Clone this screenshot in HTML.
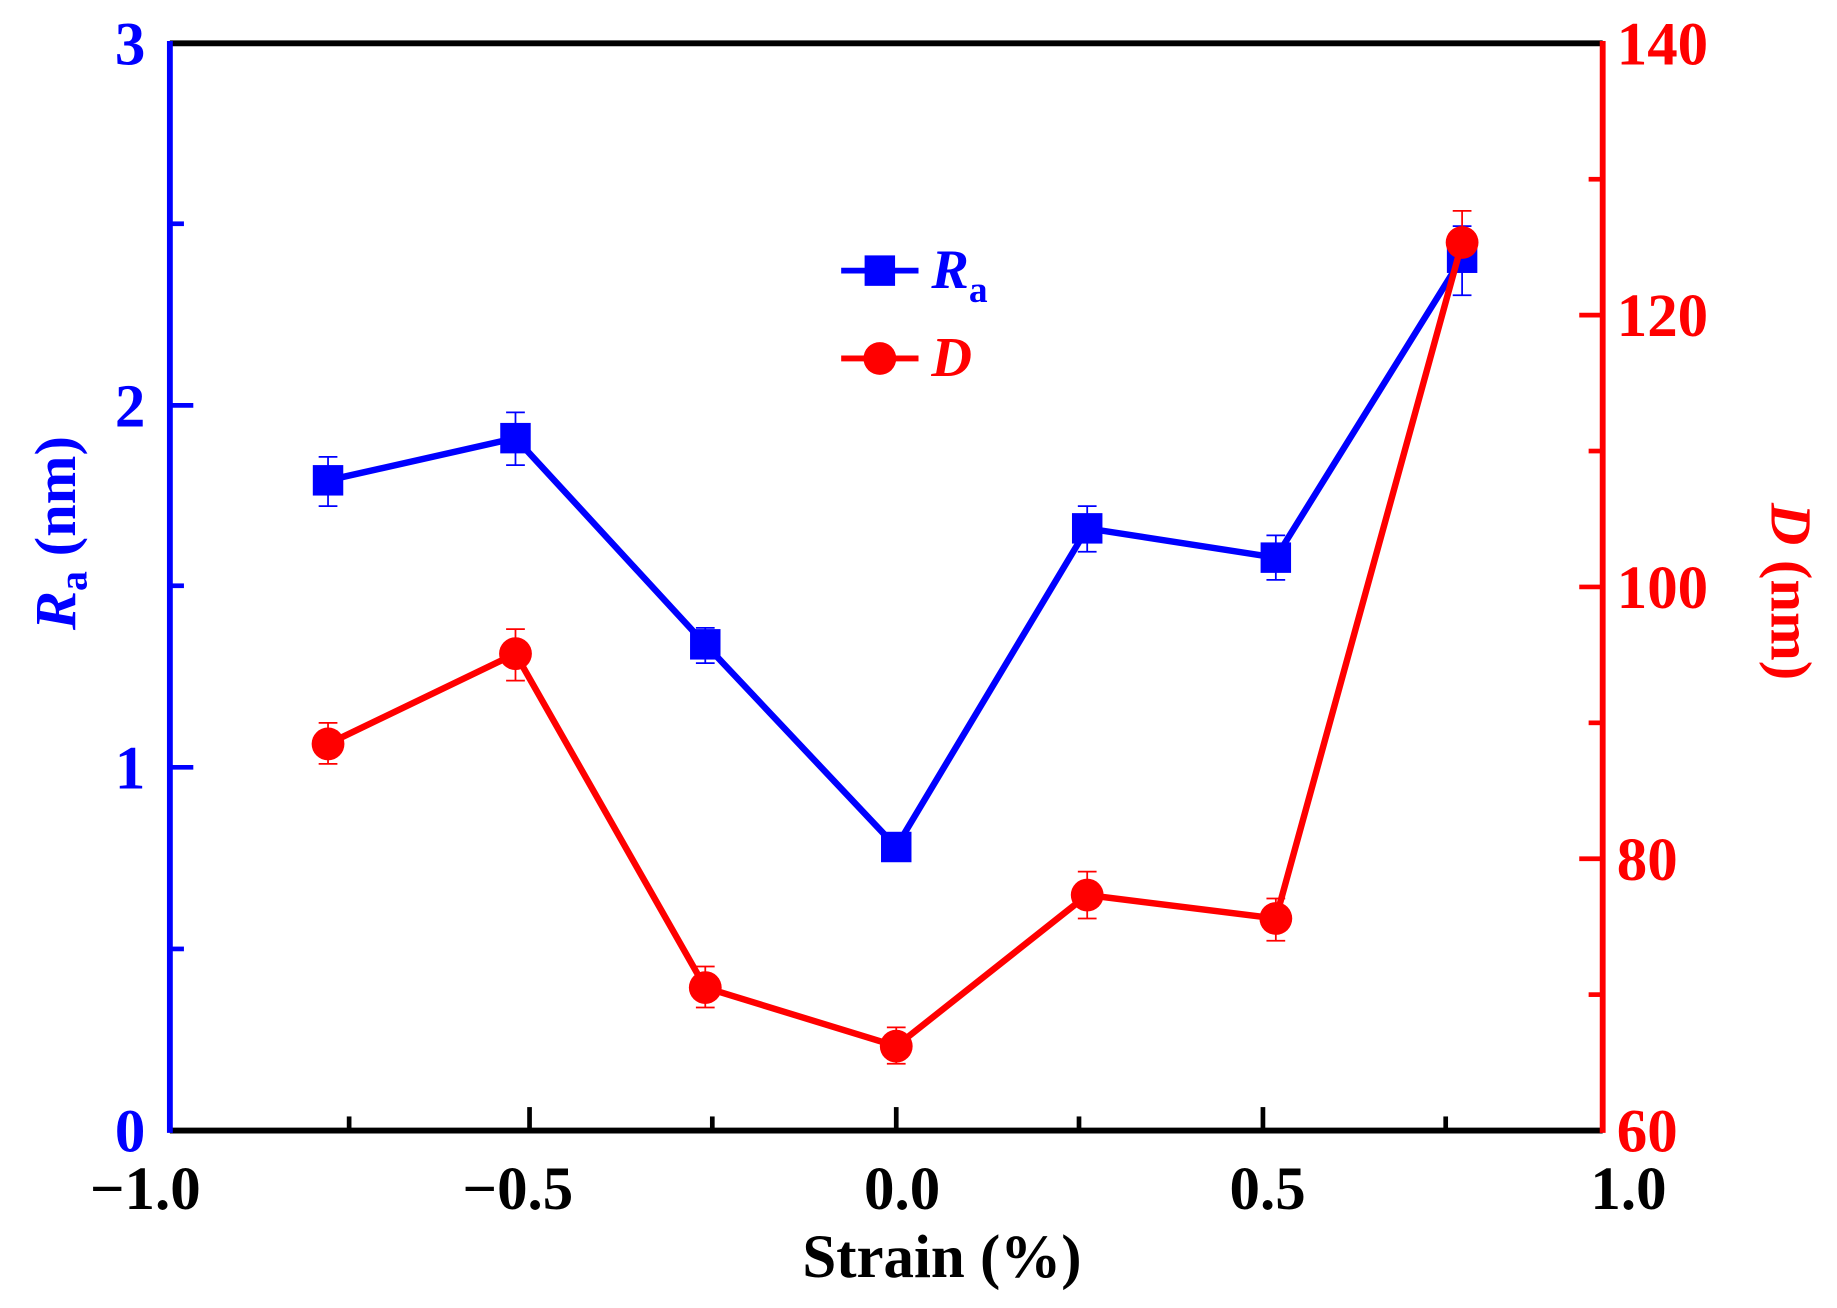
<!DOCTYPE html>
<html><head><style>html,body{margin:0;padding:0;background:#fff}svg{display:block}</style></head><body>
<svg width="1837" height="1308" viewBox="0 0 1568 1116.5" preserveAspectRatio="none" xmlns="http://www.w3.org/2000/svg" font-family="Liberation Serif, serif" font-weight="bold">
<rect width="1568" height="1117" fill="#fff"/>
<line x1="145" y1="37" x2="1368" y2="37" stroke="#000" stroke-width="5"/>
<line x1="145" y1="965" x2="1368" y2="965" stroke="#000" stroke-width="5"/>
<line x1="145" y1="35" x2="145" y2="967" stroke="#0000ff" stroke-width="5"/>
<line x1="1368" y1="35" x2="1368" y2="967" stroke="#ff0000" stroke-width="5"/>
<g stroke="#000" stroke-width="4">
<line x1="298" y1="965" x2="298" y2="953"/><line x1="452" y1="965" x2="452" y2="945"/><line x1="608" y1="965" x2="608" y2="953"/><line x1="765" y1="965" x2="765" y2="945"/><line x1="921" y1="965" x2="921" y2="953"/><line x1="1078" y1="965" x2="1078" y2="945"/><line x1="1234" y1="965" x2="1234" y2="953"/>
</g>
<g stroke="#0000ff" stroke-width="4">
<line x1="145" y1="655" x2="165" y2="655"/><line x1="145" y1="346" x2="165" y2="346"/><line x1="145" y1="500" x2="157" y2="500"/><line x1="145" y1="810" x2="157" y2="810"/><line x1="145" y1="191" x2="157" y2="191"/>
</g>
<g stroke="#ff0000" stroke-width="4">
<line x1="1368" y1="733" x2="1348" y2="733"/><line x1="1368" y1="501" x2="1348" y2="501"/><line x1="1368" y1="269" x2="1348" y2="269"/><line x1="1368" y1="153" x2="1356" y2="153"/><line x1="1368" y1="385" x2="1356" y2="385"/><line x1="1368" y1="617" x2="1356" y2="617"/><line x1="1368" y1="849" x2="1356" y2="849"/>
</g>
<g font-size="52" fill="#000" text-anchor="middle">
<text x="124" y="1032">−1.0</text><text x="442" y="1032">−0.5</text><text x="770" y="1032">0.0</text><text x="1082" y="1032">0.5</text><text x="1390" y="1032">1.0</text>
<text x="804" y="1090">Strain (%)</text>
</g>
<g font-size="52" fill="#0000ff" text-anchor="end">
<text x="124" y="55">3</text><text x="124" y="364">2</text><text x="124" y="673">1</text><text x="124" y="983">0</text>
</g>
<g font-size="52" fill="#ff0000" text-anchor="start">
<text x="1380" y="55">140</text><text x="1380" y="287">120</text><text x="1380" y="519">100</text><text x="1380" y="751">80</text><text x="1380" y="983">60</text>
</g>
<text transform="translate(64,455) rotate(-90)" font-size="50" fill="#0000ff" text-anchor="middle"><tspan font-style="italic">R</tspan><tspan font-size="34" dy="10">a</tspan><tspan dy="-10"> (nm)</tspan></text>
<text transform="translate(1512,505) rotate(90)" font-size="50" fill="#ff0000" text-anchor="middle"><tspan font-style="italic">D</tspan> (nm)</text>
<g stroke="#0000ff" stroke-width="1.5" fill="none">
<path d="M280 390V432M272 390H288M272 432H288 M440 352V397M432 352H448M432 397H448 M602 536V566M594 536H610M594 566H610 M928 432V471M920 432H936M920 471H936 M1089 457V495M1081 457H1097M1081 495H1097 M1248 193V252M1240 193H1256M1240 252H1256"/>
</g>
<g stroke="#ff0000" stroke-width="1.5" fill="none">
<path d="M280 617V652M272 617H288M272 652H288 M440 537V581M432 537H448M432 581H448 M602 825V860M594 825H610M594 860H610 M765 877V908M757 877H773M757 908H773 M928 744V784M920 744H936M920 784H936 M1089 767V803M1081 767H1097M1081 803H1097 M1248 180V232M1240 180H1256M1240 232H1256"/>
</g>
<polyline points="280,410 440,374 602,550 765,723 928,451 1089,476 1248,220" fill="none" stroke="#0000ff" stroke-width="5.5"/>
<g fill="#0000ff">
<rect x="267" y="397" width="26" height="26"/><rect x="427" y="361" width="26" height="26"/><rect x="589" y="537" width="26" height="26"/><rect x="752" y="710" width="26" height="26"/><rect x="915" y="438" width="26" height="26"/><rect x="1076" y="463" width="26" height="26"/><rect x="1235" y="207" width="26" height="26"/>
</g>
<polyline points="280,635 440,558 602,843 765,893 928,764 1089,784 1248,207" fill="none" stroke="#ff0000" stroke-width="5.5"/>
<g fill="#ff0000">
<circle cx="280" cy="635" r="14"/><circle cx="440" cy="558" r="14"/><circle cx="602" cy="843" r="14"/><circle cx="765" cy="893" r="14"/><circle cx="928" cy="764" r="14"/><circle cx="1089" cy="784" r="14"/><circle cx="1248" cy="207" r="14"/>
</g>
<line x1="718" y1="231" x2="784" y2="231" stroke="#0000ff" stroke-width="5"/>
<rect x="738" y="218" width="26" height="26" fill="#0000ff"/>
<text x="795" y="246" font-size="48" fill="#0000ff"><tspan font-style="italic">R</tspan><tspan font-size="32" dy="12">a</tspan></text>
<line x1="718" y1="306" x2="784" y2="306" stroke="#ff0000" stroke-width="5"/>
<circle cx="751" cy="306" r="14" fill="#ff0000"/>
<text x="795" y="321" font-size="48" fill="#ff0000" font-style="italic">D</text>
</svg>
</body></html>
